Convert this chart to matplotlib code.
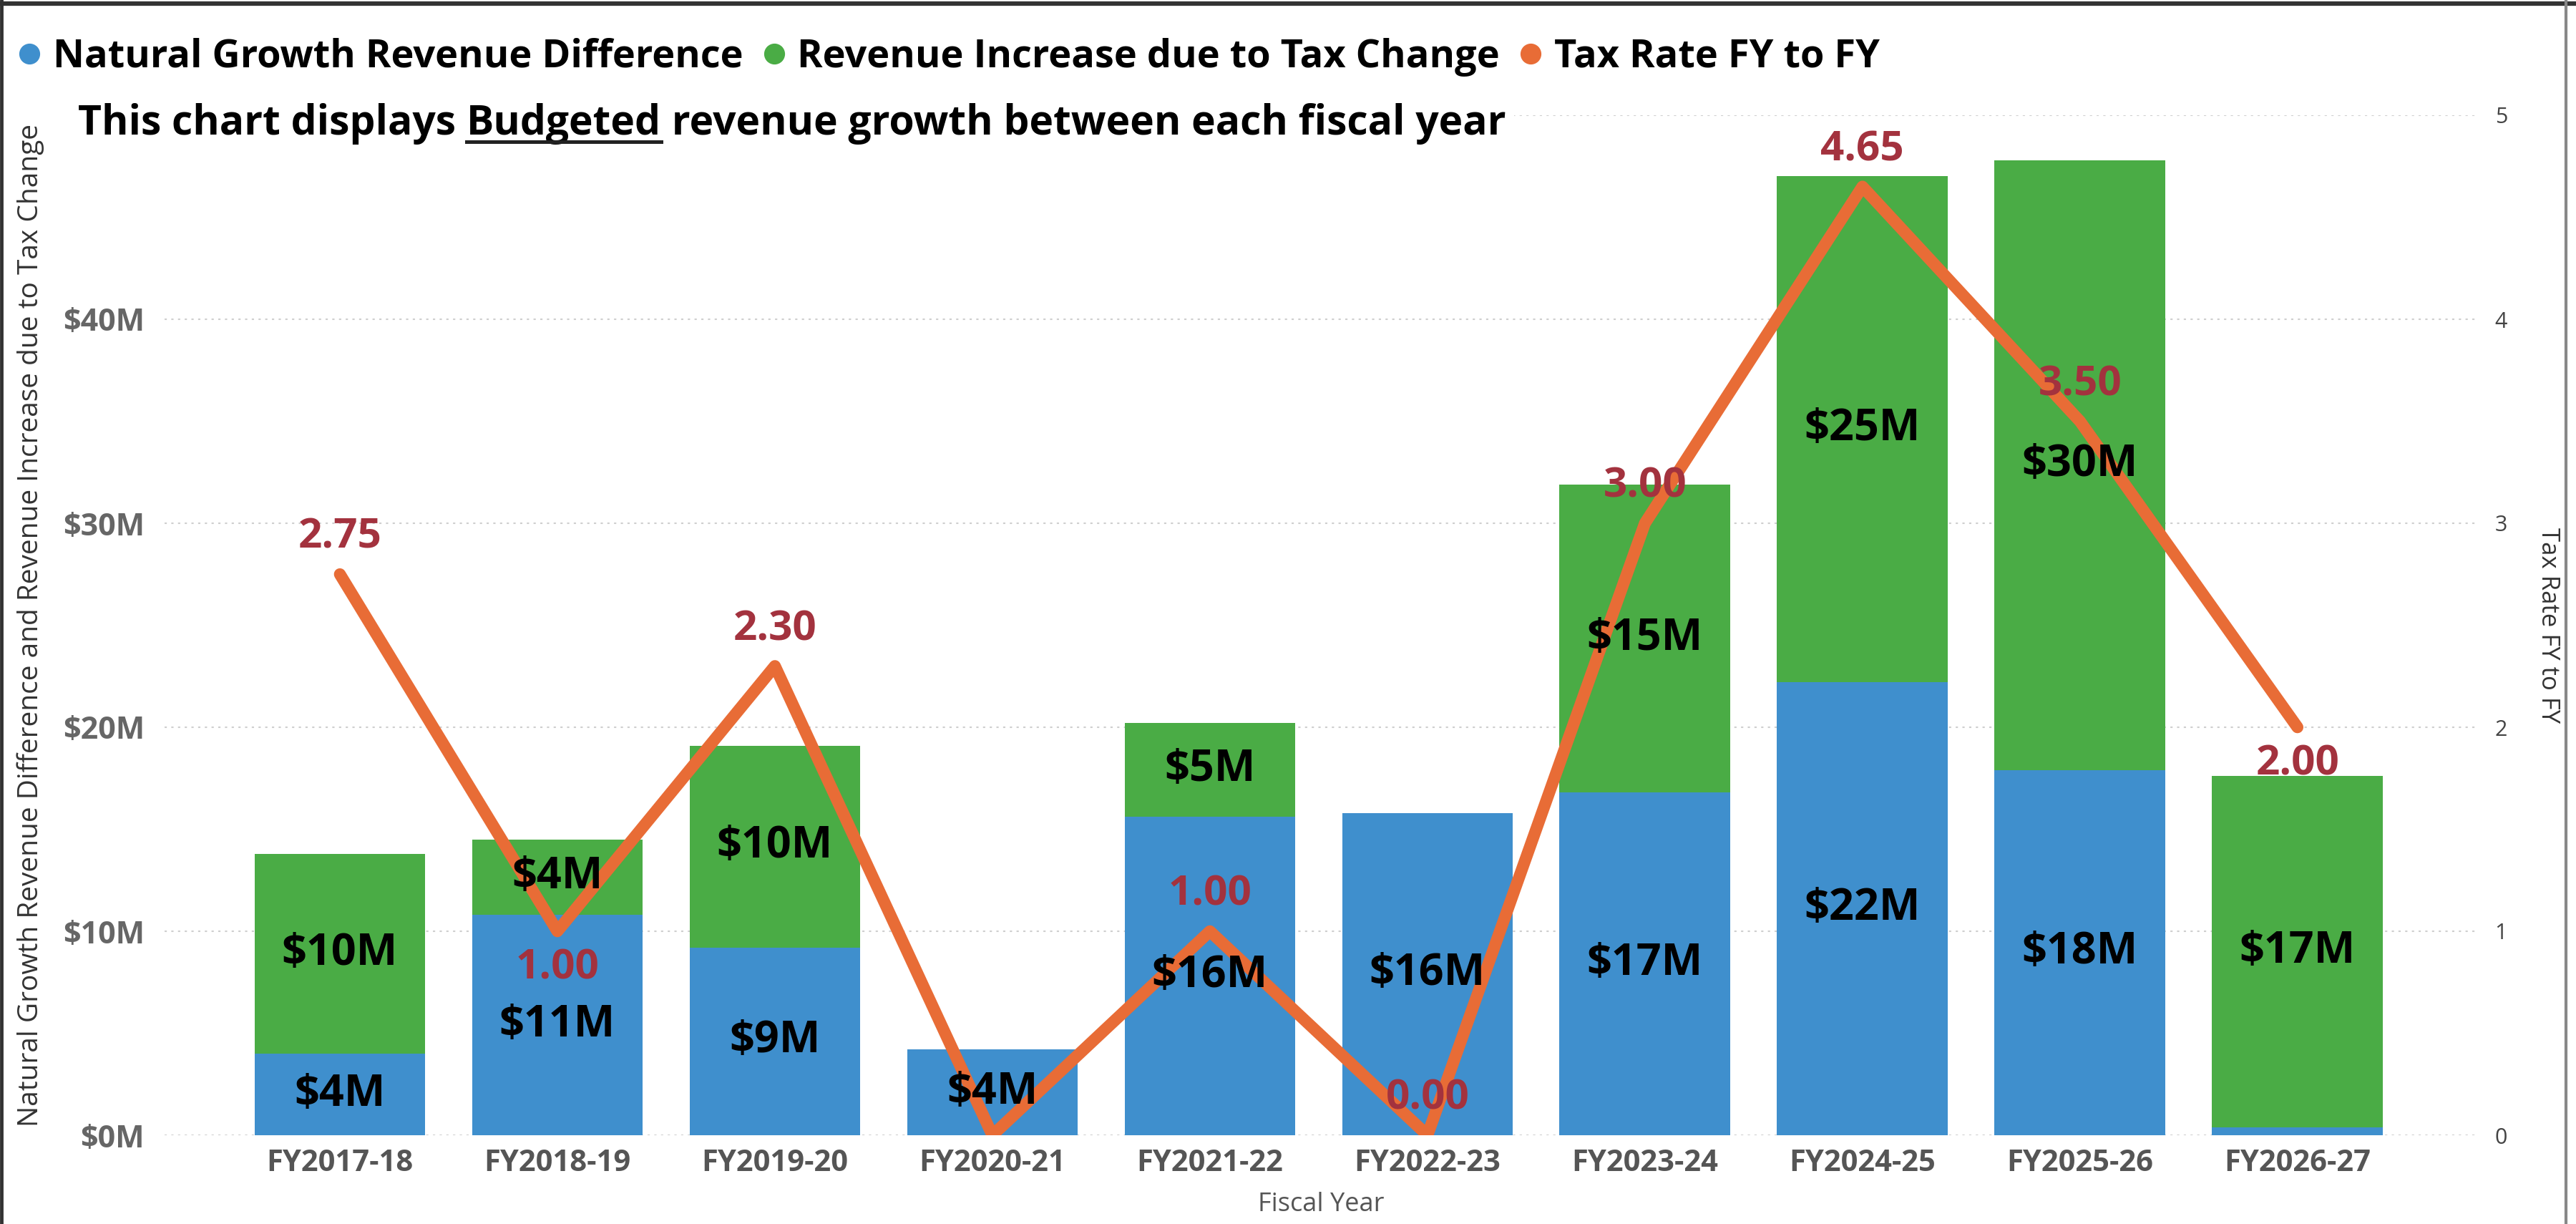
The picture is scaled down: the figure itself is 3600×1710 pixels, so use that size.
import matplotlib
matplotlib.use('Agg')
import matplotlib.pyplot as plt
from matplotlib.lines import Line2D

plt.rcParams['font.family'] = ['Open Sans', 'DejaVu Sans']

years = ['FY2017-18', 'FY2018-19', 'FY2019-20', 'FY2020-21', 'FY2021-22',
         'FY2022-23', 'FY2023-24', 'FY2024-25', 'FY2025-26', 'FY2026-27']
# $M
natural_growth = [4.0, 10.8, 9.2, 4.2, 15.6, 15.8, 16.8, 22.2, 17.9, 0.4]
tax_change = [9.8, 3.7, 9.9, 0.0, 4.6, 0.0, 15.1, 24.8, 29.9, 17.2]
tax_rate = [2.75, 1.00, 2.30, 0.00, 1.00, 0.00, 3.00, 4.65, 3.50, 2.00]

blue = '#3F8FCD'
green = '#4AAC45'
orange = '#E86C36'
label_red = '#A3323E'

W, H = 3600, 1710
fig = plt.figure(figsize=(W / 100, H / 100), dpi=100)
ax = fig.add_axes([230 / W, 1 - 1586 / H, (3463 - 230) / W, (1586 - 161) / H])

x = list(range(len(years)))
ax.bar(x, natural_growth, width=0.785, color=blue, zorder=2)
ax.bar(x, tax_change, width=0.785, bottom=natural_growth, color=green, zorder=2)

ax.set_xlim(-0.806, 9.83)
ax.set_ylim(0, 50)
ax.set_yticks(range(0, 51, 10))
ax.yaxis.set_major_formatter(lambda v, pos: f'${v:.0f}M' if v < 50 else '')
ax.grid(axis='y', linestyle=(0, (1.5, 3)), color='#cfcfcf', linewidth=1.5)
ax.set_axisbelow(True)
for s in ax.spines.values():
    s.set_visible(False)
ax.tick_params(axis='y', length=0, pad=20, labelsize=31, labelcolor='#666666')
for lbl in ax.get_yticklabels():
    lbl.set_fontweight('bold')
ax.set_xticks(x)
ax.set_xticklabels(years, fontsize=30, fontweight='bold', color='#555555')
ax.tick_params(axis='x', length=0, pad=14)

ax.text(-0.058, 0.5, 'Natural Growth Revenue Difference and Revenue Increase due to Tax Change',
        transform=ax.transAxes, rotation=90, ha='center', va='center', fontsize=28, color='#333333')
ax.text(0.5, -0.068, 'Fiscal Year', transform=ax.transAxes, ha='center', va='center',
        fontsize=26, color='#555555')

ax2 = ax.twinx()
ax2.plot(x, tax_rate, color=orange, lw=12, solid_capstyle='round', zorder=3)
ax2.set_ylim(0, 5)
ax2.set_yticks(range(6))
ax2.tick_params(axis='y', length=0, pad=17, labelsize=22, labelcolor='#444444')
for s in ax2.spines.values():
    s.set_visible(False)
ax2.text(1.0303, 0.5, 'Tax Rate FY to FY', transform=ax2.transAxes, rotation=270,
         ha='center', va='center', fontsize=25, color='#333333')

# bar segment labels (drawn on top of the line)
for i in x:
    for bottom, val in [(0, natural_growth[i]), (natural_growth[i], tax_change[i])]:
        if val >= 1:
            ax2.text(i, bottom + val / 2, f'${val:.0f}M', transform=ax.transData,
                     ha='center', va='center', fontsize=44, fontweight='bold', zorder=5)

# tax rate labels
for i, r in enumerate(tax_rate):
    if i == 3:
        continue
    dy = -37 if i in (1, 9) else 37
    ax2.annotate(f'{r:.2f}', (i, r), xytext=(0, dy), textcoords='offset points',
                 ha='center', va='center', fontsize=42, fontweight='bold',
                 color=label_red, zorder=6)

# legend
handles = [Line2D([], [], marker='o', ls='', color=c, markersize=20) for c in (blue, green, orange)]
labels = ['Natural Growth Revenue Difference', 'Revenue Increase due to Tax Change', 'Tax Rate FY to FY']
fig.legend(handles, labels, loc='center left', bbox_to_anchor=(25 / W, 1 - 80 / H), ncol=3,
           frameon=False, prop={'size': 39, 'weight': 'bold'}, handlelength=0.6,
           handletextpad=0.3, columnspacing=0.5, borderpad=0, borderaxespad=0)

# subtitle with underlined word
box = dict(facecolor='white', edgecolor='none', pad=8)
tstyle = dict(fontsize=41, fontweight='bold', va='baseline', bbox=box)
ty = 1 - 188 / H
t1 = fig.text(109 / W, ty, 'This chart displays ', zorder=3, **tstyle)
fig.canvas.draw()
x1 = t1.get_window_extent().x1 / W
t2 = fig.text(x1, ty, 'Budgeted', zorder=5, **tstyle)
fig.canvas.draw()
bb2 = t2.get_window_extent()
t3 = fig.text(bb2.x1 / W, ty, ' revenue growth between each fiscal year', zorder=4, **tstyle)
fig.add_artist(Line2D([bb2.x0 / W, bb2.x1 / W], [1 - 198 / H] * 2, color='#222222',
                      lw=3.6, zorder=6))

# frame
fig.add_artist(Line2D([0, 1], [1 - 5 / H] * 2, color='#333333', lw=4.5))
fig.add_artist(Line2D([2 / W] * 2, [0, 1], color='#333333', lw=3.5))
fig.add_artist(Line2D([3586 / W] * 2, [0, 1], color='#888888', lw=3))

fig.savefig('out.png', dpi=100)
